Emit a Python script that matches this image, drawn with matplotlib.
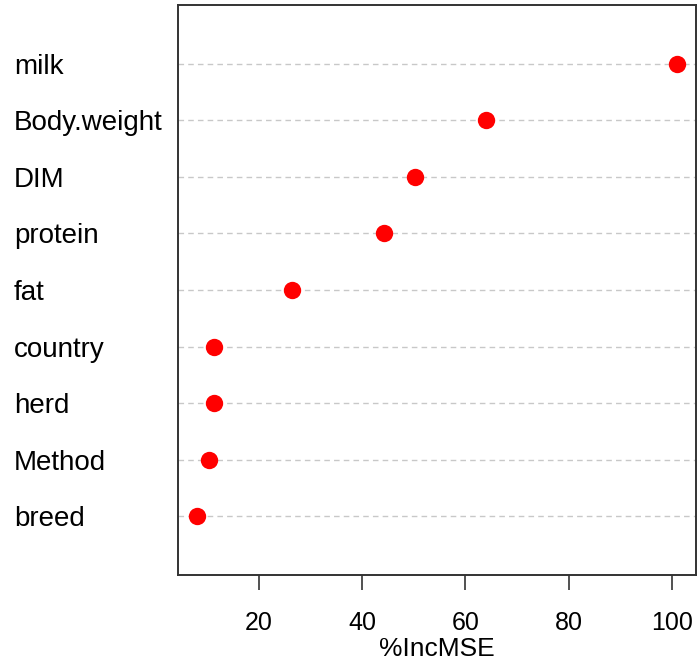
import matplotlib
matplotlib.use("Agg")
import matplotlib.pyplot as plt
from matplotlib.ticker import FixedLocator

plt.rcParams['font.family'] = ['Liberation Sans', 'DejaVu Sans']

variables = ["breed", "Method", "herd", "country", "fat", "protein", "DIM", "Body.weight", "milk"]
inc_mse = [8.05, 10.26, 11.28, 11.28, 26.45, 44.15, 50.16, 63.97, 100.9]
x_ticks = [20, 40, 60, 80, 100]
x_label = "%IncMSE"

fig = plt.figure(figsize=(6.98, 6.62), dpi=100)
ax = fig.add_axes([178/698, 87/662, (696-178)/698, (575-5)/662])

ypos = list(range(1, len(variables) + 1))
for y in ypos:
    ax.axhline(y, color="#c8c8c8", lw=1.0, ls=(0, (4, 3)), zorder=1)
ax.plot(inc_mse, ypos, "o", color="#ff0000", markersize=12.5, markeredgewidth=0, zorder=3)

ax.set_xlim(4.31, 104.65)
ax.set_ylim(-0.04, 10.04)
ax.xaxis.set_major_locator(FixedLocator(x_ticks))
ax.set_xticklabels([str(t) for t in x_ticks], fontsize=18, color="#000000")
ax.tick_params(axis="x", length=11, width=1.2, color="#333333", pad=15)
ax.set_xlabel(x_label, fontsize=19, color="#000000", labelpad=1)

ax.set_yticks(ypos)
ax.set_yticklabels(variables, fontsize=20, color="#000000")
ax.tick_params(axis="y", length=0, pad=118)
for lab in ax.get_yticklabels():
    lab.set_horizontalalignment("left")

for s in ax.spines.values():
    s.set_linewidth(1.4)
    s.set_color("#333333")

fig.savefig("out.png", dpi=100)
